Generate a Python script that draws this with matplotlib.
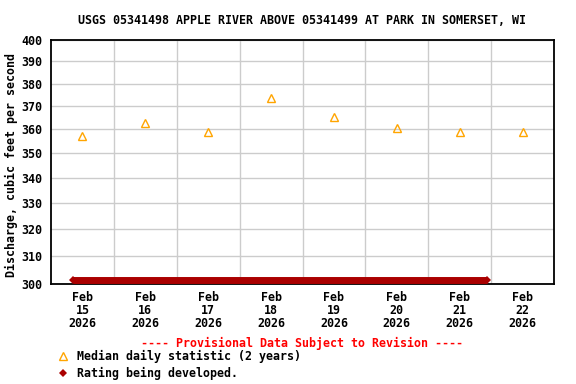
import matplotlib
matplotlib.use("Agg")
import matplotlib.pyplot as plt
import matplotlib.dates as mdates
from matplotlib.lines import Line2D
from matplotlib.ticker import FixedLocator, FixedFormatter, NullLocator
import numpy as np
import datetime as dt

# ---- data ----
median_dates = ["2026-02-15 12:00", "2026-02-16 12:00", "2026-02-17 12:00", "2026-02-18 12:00",
                "2026-02-19 12:00", "2026-02-20 12:00", "2026-02-21 12:00", "2026-02-22 12:00"]
median_values = [357.4, 362.5, 358.7, 373.4, 365.5, 360.4, 358.7, 358.7]

rating_dates = ["2026-02-15 08:30", "2026-02-21 22:30"]
rating_values = [301.5, 301.5]

y_ticks = [300, 310, 320, 330, 340, 350, 360, 370, 380, 390, 400]
x_tick_dates = median_dates
x_tick_labels = ["Feb\n15\n2026", "Feb\n16\n2026", "Feb\n17\n2026", "Feb\n18\n2026",
                 "Feb\n19\n2026", "Feb\n20\n2026", "Feb\n21\n2026", "Feb\n22\n2026"]
grid_dates = ["2026-02-16", "2026-02-17", "2026-02-18", "2026-02-19",
              "2026-02-20", "2026-02-21", "2026-02-22"]
x_start, x_end = "2026-02-15", "2026-02-23"

title = "USGS 05341498 APPLE RIVER ABOVE 05341499 AT PARK IN SOMERSET, WI"
ylabel = "Discharge, cubic feet per second"
provisional = "---- Provisional Data Subject to Revision ----"
legend_median = "Median daily statistic (2 years)"
legend_rating = "Rating being developed."

def p(s):
    return dt.datetime.fromisoformat(s)

FONT = "DejaVu Sans Mono"
FS = 8.4
W, H = 576, 384

fig = plt.figure(figsize=(5.76, 3.84), dpi=100)
fig.patch.set_facecolor("white")
ax = fig.add_axes([51 / W, 1 - 284 / H, (554 - 51) / W, (284 - 40) / H])

ax.set_yscale("log")
ax.set_ylim(300, 400)
ax.set_xlim(p(x_start), p(x_end))

ax.yaxis.set_major_locator(FixedLocator(y_ticks))
ax.yaxis.set_major_formatter(FixedFormatter([str(v) for v in y_ticks]))
ax.yaxis.set_minor_locator(NullLocator())

ax.set_xticks([mdates.date2num(p(d)) for d in x_tick_dates])
ax.set_xticklabels(x_tick_labels)
ax.set_xticks([mdates.date2num(p(d)) for d in grid_dates], minor=True)

ax.grid(True, which="major", axis="y", color="#cccccc", linewidth=1.0)
ax.grid(True, which="minor", axis="x", color="#cccccc", linewidth=1.0)
ax.grid(False, which="major", axis="x")
ax.set_axisbelow(True)

ax.tick_params(axis="both", which="both", length=0)
ax.tick_params(axis="y", pad=6)
ax.tick_params(axis="x", pad=5)
for lab in ax.get_xticklabels() + ax.get_yticklabels():
    lab.set_fontfamily(FONT)
    lab.set_fontweight("bold")
    lab.set_fontsize(FS)
for lab in ax.get_xticklabels():
    lab.set_linespacing(1.0)

for s in ax.spines.values():
    s.set_color("black")
    s.set_linewidth(1.3)

# rating band
rd = [p(d) for d in rating_dates]
ax.plot(rd, rating_values, color="#aa0000", linewidth=5.0, solid_capstyle="butt",
        marker="D", markersize=4.2, markeredgewidth=0, clip_on=False, zorder=3)

# medians
md = [p(d) for d in median_dates]
ax.plot(md, median_values, linestyle="none", marker="^", markersize=6.2,
        markerfacecolor="none", markeredgecolor="#ffa500", markeredgewidth=1.0, zorder=4)

fig.text(0.5 + (51 + 554 - W) / 2 / W, 1 - 20 / H, title, ha="center", va="center",
         fontfamily=FONT, fontweight="bold", fontsize=FS)
fig.text(11 / W, 1 - 165 / H, ylabel, ha="center", va="center", rotation=90,
         fontfamily=FONT, fontweight="bold", fontsize=FS)

fig.text(302 / W, 1 - 343 / H, provisional, ha="center", va="center", color="#ff0000",
         fontfamily=FONT, fontweight="bold", fontsize=FS)

fig.add_artist(Line2D([63 / W], [1 - 356 / H], transform=fig.transFigure, linestyle="none",
                      marker="^", markersize=6.2, markerfacecolor="none",
                      markeredgecolor="#ffa500", markeredgewidth=1.0))
fig.text(77 / W, 1 - 356 / H, legend_median, ha="left", va="center",
         fontfamily=FONT, fontweight="bold", fontsize=FS)
fig.add_artist(Line2D([63 / W], [1 - 373 / H], transform=fig.transFigure, linestyle="none",
                      marker="D", markersize=4.2, markerfacecolor="#aa0000",
                      markeredgewidth=0))
fig.text(77 / W, 1 - 373 / H, legend_rating, ha="left", va="center",
         fontfamily=FONT, fontweight="bold", fontsize=FS)

fig.savefig("out.png", dpi=100, facecolor="white")
